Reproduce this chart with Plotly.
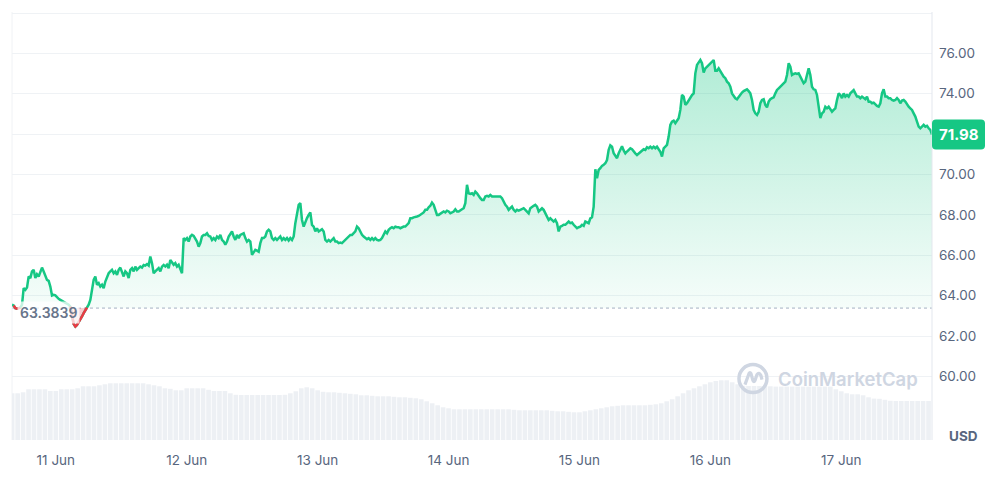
import plotly.graph_objects as go
import pandas as pd
import numpy as np

# ---------------- data ----------------
start_time = "2024-06-10 15:58:00"
step = "1100s"
baseline = 63.3839
last_price = 71.98

prices_a = [63.55, 63.51, 63.38, 63.35, 63.38, 63.41, 63.55, 64.37, 64.29, 64.40,
            64.95, 64.87, 65.20, 65.28, 64.87, 65.06, 64.95, 65.23, 65.39, 65.20,
            64.95, 64.78, 64.73, 64.45, 64.01, 64.04, 64.01, 63.91, 63.84, 63.79,
            63.74, 63.71, 63.68, 63.63, 63.55, 63.46, 62.97, 62.59, 62.47, 62.55,
            62.69, 62.80, 62.97, 63.13, 63.25, 63.41, 63.55, 63.79, 64.21, 64.78,
            64.95, 64.54, 64.62, 64.45, 64.54, 64.37, 64.70, 64.95, 65.11, 65.20,
            65.28, 65.11, 65.20, 65.03, 65.28, 65.39, 65.20, 64.95, 65.20, 65.11,
            64.87, 65.28, 65.36, 65.20, 65.44, 65.28, 65.36, 65.44, 65.39, 65.52,
            65.49, 65.56, 65.49, 65.94, 65.61, 65.11, 65.20, 65.28, 65.36, 65.20,
            65.44, 65.52]
prices_b = [65.44, 65.53, 65.36, 65.77, 65.61, 65.53, 65.61, 65.44, 65.53, 65.36,
            65.11, 66.85, 66.76, 66.85, 66.68, 66.93, 67.01, 66.96, 66.85, 66.68,
            66.43, 66.60, 66.93, 67.01, 67.01, 67.09, 66.96, 66.93, 66.76, 66.85,
            66.76, 66.93, 66.85, 67.01, 66.76, 66.68, 66.52, 66.68, 66.93, 67.09,
            67.18, 66.93, 66.76, 67.01, 66.85, 67.01, 67.06, 67.09, 66.85, 66.68,
            66.76, 66.68, 66.02, 66.18, 66.27, 66.23, 66.18, 66.60, 66.85, 66.85,
            66.93, 67.18, 67.26, 67.18, 66.85, 66.76, 66.85, 66.76, 66.85, 66.93,
            66.76, 66.85, 66.76, 66.85, 66.73, 66.85, 66.76, 66.93, 67.59, 68.08,
            68.50, 68.58, 67.75, 67.42, 67.67, 67.84, 68.00, 68.12, 67.50, 67.42,
            67.18, 67.34, 67.18]
prices_c = [67.26, 67.29, 67.18, 66.76, 66.68, 66.76, 66.68, 66.76, 66.85, 66.68,
            66.68, 66.60, 66.63, 66.60, 66.68, 66.76, 66.85, 66.93, 67.01, 67.01,
            67.09, 67.18, 67.42, 67.34, 67.18, 67.01, 66.93, 66.85, 66.80, 66.85,
            66.76, 66.85, 66.76, 66.85, 66.76, 66.73, 66.76, 66.85, 67.01, 67.18,
            67.09, 67.26, 67.34, 67.39, 67.34, 67.42, 67.39, 67.39, 67.34, 67.39,
            67.42, 67.42, 67.50, 67.59, 67.84, 67.84, 67.88, 67.92, 67.92, 67.95,
            68.00, 68.08, 68.12, 68.25, 68.25, 68.38, 68.45, 68.61, 68.50, 68.25,
            68.00, 68.00, 68.05, 68.08, 68.17, 68.12, 68.21, 68.17, 68.08, 68.12,
            68.17, 68.28, 68.17, 68.17, 68.25, 68.28, 68.33, 68.58, 69.49, 69.07,
            69.04, 69.07, 68.99]
prices_d = [69.15, 69.07, 68.91, 68.83, 68.74, 68.74, 68.91, 68.94, 68.91, 68.99,
            68.91, 68.91, 68.94, 68.91, 68.94, 68.91, 68.83, 68.66, 68.50, 68.41,
            68.25, 68.33, 68.41, 68.25, 68.17, 68.25, 68.21, 68.25, 68.28, 68.33,
            68.25, 68.17, 68.08, 68.33, 68.41, 68.45, 68.50, 68.41, 68.17, 68.25,
            68.33, 68.25, 68.08, 67.88, 67.75, 67.83, 67.72, 67.67, 67.75, 67.59,
            67.18, 67.42, 67.46, 67.51, 67.51, 67.59, 67.67, 67.59, 67.62, 67.51,
            67.42, 67.34, 67.39, 67.42, 67.51, 67.46, 67.67, 67.62, 67.59, 67.83,
            67.88, 68.41, 70.26, 69.82, 70.23, 70.31, 70.43, 70.48, 70.56, 70.72,
            71.22, 71.45, 71.38, 71.05, 70.89, 70.81, 71.05, 71.19, 71.40, 71.19,
            71.05, 71.14, 71.22]
prices_e = [71.30, 71.25, 71.13, 71.05, 70.97, 71.05, 71.13, 71.22, 71.25, 71.22,
            71.35, 71.30, 71.38, 71.30, 71.38, 71.30, 71.38, 71.25, 71.13, 70.89,
            71.30, 71.38, 71.47, 71.88, 72.46, 72.62, 72.67, 72.54, 72.70, 72.79,
            73.20, 73.94, 73.86, 73.45, 73.53, 73.69, 73.86, 73.94, 74.02, 75.01,
            75.43, 75.59, 75.67, 75.51, 75.05, 75.26, 75.34, 75.43, 75.51, 75.59,
            75.67, 75.14, 75.14, 75.26, 75.10, 74.93, 74.85, 74.77, 74.60, 74.52,
            74.35, 74.02, 73.86, 73.78, 73.73, 73.86, 73.94, 74.06, 74.13, 74.19,
            74.22, 74.13, 74.02, 73.69, 73.20, 73.03, 72.95, 73.11, 73.53, 73.69,
            73.73, 73.45, 73.33, 73.61, 73.73, 73.78, 73.82, 74.02, 74.19, 74.27,
            74.35, 74.44, 74.52]
prices_f = [74.60, 74.93, 75.51, 75.34, 74.93, 74.98, 75.01, 74.98, 75.01, 74.85,
            74.68, 74.52, 74.60, 74.93, 75.26, 74.93, 74.35, 74.22, 74.19, 73.94,
            73.20, 72.79, 73.03, 73.11, 73.36, 73.28, 73.36, 73.20, 73.11, 73.20,
            73.28, 73.69, 74.02, 73.94, 73.78, 74.02, 73.86, 73.94, 73.86, 74.02,
            74.13, 74.18, 74.02, 73.86, 73.86, 73.78, 73.86, 73.78, 73.73, 73.86,
            73.61, 73.61, 73.53, 73.56, 73.45, 73.40, 73.36, 73.53, 74.02, 74.22,
            73.86, 73.86, 73.78, 73.78, 73.69, 73.66, 73.69, 73.78, 73.69, 73.53,
            73.66, 73.69, 73.61, 73.45, 73.36, 73.28, 73.20, 73.03, 72.87, 72.62,
            72.37, 72.29, 72.37, 72.46, 72.37, 72.41, 72.29, 72.21, 71.98]

vol_start = "2024-06-10 16:00:00"
volumes = [467, 467, 477, 507, 507, 507, 507, 490, 490, 507,
           507, 507, 517, 537, 537, 537, 547, 557, 567, 567,
           567, 567, 567, 567, 567, 557, 547, 537, 517, 512,
           497, 497, 517, 517, 517, 517, 502, 490, 490, 490,
           467, 452, 450, 450, 450, 450, 450, 450, 450, 450,
           452, 467, 487, 517, 527, 517, 497, 482, 477, 477,
           472, 467, 462, 457, 447, 447, 442, 437, 437, 437,
           432, 427, 427, 422, 417, 407, 387, 367, 347, 327,
           317, 307, 307, 307, 307, 307, 307, 307, 307, 307,
           307, 307, 302, 297, 297, 297, 297, 297, 297, 292,
           287, 287, 282, 277, 277, 287, 297, 307, 317, 327,
           337, 342, 347, 347, 347, 347, 347, 352, 357, 367,
           387, 407, 437, 467, 497, 517, 537, 557, 577, 590,
           597, 597, 577, 557, 542, 540, 540, 540, 540, 537,
           534, 534, 534, 534, 534, 534, 534, 534, 534, 534,
           534, 507, 487, 467, 457, 457, 447, 427, 414, 412,
           402, 392, 390, 390, 390, 390, 390, 390, 390]

tick_dates = ["2024-06-11", "2024-06-12", "2024-06-13", "2024-06-14",
              "2024-06-15", "2024-06-16", "2024-06-17"]
tick_labels = ["11 Jun", "12 Jun", "13 Jun", "14 Jun", "15 Jun", "16 Jun", "17 Jun"]
price_ticks = [60, 62, 64, 66, 68, 70, 72, 74, 76, 78]
price_tick_labels = ["60.00", "62.00", "64.00", "66.00", "68.00", "70.00",
                     "", "74.00", "76.00", ""]

# ---------------- build ----------------
prices = np.array(prices_a + prices_b + prices_c + prices_d + prices_e + prices_f)
times = pd.date_range(start_time, periods=len(prices), freq=step)
vol_times = pd.date_range(vol_start, periods=len(volumes), freq="1h")
n = len(prices)

GREEN = "#16c784"
RED = "#ea3943"
GRID = "#eff2f5"
TICK = "#58667e"

base_arr = np.full(n, baseline)
above = np.maximum(prices, baseline)
below = np.minimum(prices, baseline)

is_below = prices < baseline
red_mask = is_below.copy()
red_mask[1:] |= is_below[:-1]
red_mask[:-1] |= is_below[1:]
red_y = [p if m else None for p, m in zip(prices, red_mask)]

fig = go.Figure()

fig.add_trace(go.Bar(x=vol_times, y=volumes, yaxis="y2",
                     marker=dict(color="#edf0f4", line=dict(width=0)),
                     hoverinfo="skip", showlegend=False))

fig.add_trace(go.Scatter(x=times, y=base_arr, mode="lines", line=dict(width=0),
                         hoverinfo="skip", showlegend=False))
fig.add_trace(go.Scatter(x=times, y=above, mode="lines", line=dict(width=0),
                         fill="tonexty",
                         fillgradient=dict(type="vertical",
                                           colorscale=[[0, "rgba(22,199,132,0.04)"],
                                                       [1, "rgba(22,199,132,0.34)"]],
                                           start=baseline, stop=76),
                         hoverinfo="skip", showlegend=False))
fig.add_trace(go.Scatter(x=times, y=base_arr, mode="lines", line=dict(width=0),
                         hoverinfo="skip", showlegend=False))
fig.add_trace(go.Scatter(x=times, y=below, mode="lines", line=dict(width=0),
                         fill="tonexty", fillcolor="rgba(234,57,67,0.25)",
                         hoverinfo="skip", showlegend=False))
fig.add_trace(go.Scatter(x=times, y=prices, mode="lines",
                         line=dict(color=GREEN, width=2.5),
                         hoverinfo="skip", showlegend=False))
fig.add_trace(go.Scatter(x=times, y=red_y, mode="lines",
                         line=dict(color=RED, width=2.5), connectgaps=False,
                         hoverinfo="skip", showlegend=False))

font_family = "Inter, Roboto, sans-serif"

fig.update_layout(
    width=1007, height=486,
    margin=dict(l=12, r=75, t=12, b=46),
    paper_bgcolor="white", plot_bgcolor="white",
    bargap=0.15,
    hovermode=False,
    font=dict(family=font_family, color=TICK, size=13.5),
    xaxis=dict(range=[times[0], times[-1]], tickvals=pd.to_datetime(tick_dates),
               ticktext=tick_labels, showgrid=False, zeroline=False,
               showline=False, ticks="", ticklabelstandoff=10,
               tickfont=dict(size=13.5, color=TICK)),
    yaxis=dict(range=[56.85, 78.05], side="right", tickvals=price_ticks,
               ticktext=price_tick_labels, showgrid=True, gridcolor=GRID,
               gridwidth=1, zeroline=False, showline=False, ticks="",
               ticklabelstandoff=6, tickfont=dict(size=13.5, color=TICK)),
    yaxis2=dict(range=[0, 4280], overlaying="y", visible=False),
)

shapes = [
    dict(type="line", xref="paper", yref="y", x0=0, x1=1, y0=baseline, y1=baseline,
         line=dict(color="#a6b0c3", width=1, dash="dot"), layer="below"),
    dict(type="line", xref="paper", yref="paper", x0=1, x1=1, y0=0, y1=1,
         line=dict(color="#e3e7ee", width=1)),
    dict(type="line", xref="paper", yref="paper", x0=0, x1=0, y0=0, y1=1,
         line=dict(color="#f0f2f5", width=1), layer="below"),
    # price label box
    dict(type="path", xref="paper", yref="y", xsizemode="pixel", ysizemode="pixel",
         xanchor=1, yanchor=last_price,
         path="M 4 -15 L 49 -15 Q 53 -15 53 -11 L 53 11 Q 53 15 49 15 L 4 15 "
              "Q 0 15 0 11 L 0 -11 Q 0 -15 4 -15 Z",
         fillcolor=GREEN, line=dict(width=0)),
    # watermark logo
    dict(type="circle", xref="paper", yref="paper", xsizemode="pixel", ysizemode="pixel",
         xanchor=0.8054, yanchor=0.1435, x0=-14, x1=14, y0=-14, y1=14,
         line=dict(color="#cfd6e2", width=3.5), fillcolor="rgba(0,0,0,0)"),
    dict(type="path", xref="paper", yref="paper", xsizemode="pixel", ysizemode="pixel",
         xanchor=0.8054, yanchor=0.1435,
         path="M -8 -6 L -4 5 Q -3 7 -2 5 L 0 -2 Q 1 -4 2 -2 L 4 4 Q 6 7 8 3 L 9 -1",
         line=dict(color="#cfd6e2", width=3.2), fillcolor="rgba(0,0,0,0)"),
]
fig.update_layout(shapes=shapes)

annotations = [
    dict(text="<b>71.98</b>", xref="paper", yref="y", x=1, y=last_price,
         xanchor="center", yanchor="middle", xshift=26.5, showarrow=False,
         font=dict(size=15, color="white", family=font_family)),
    dict(text="63.3839", xref="paper", yref="y", x=0, y=baseline,
         xanchor="left", yanchor="middle", xshift=5, yshift=-4, showarrow=False,
         bgcolor="rgba(255,255,255,0.75)", borderpad=2,
         font=dict(size=14, color="#68758b", family=font_family, weight=600)),
    dict(text="<b>USD</b>", xref="paper", yref="paper", x=1, y=0.0105,
         xanchor="center", yanchor="middle", xshift=31, showarrow=False,
         font=dict(size=13.5, color=TICK, family=font_family)),
    dict(text="CoinMarketCap", xref="paper", yref="paper", x=0.8054, y=0.1435,
         xanchor="left", yanchor="middle", xshift=23, showarrow=False,
         font=dict(size=18.5, color="#cfd6e2", family=font_family, weight=600)),
]
fig.update_layout(annotations=annotations)

fig.write_html("out.html")
